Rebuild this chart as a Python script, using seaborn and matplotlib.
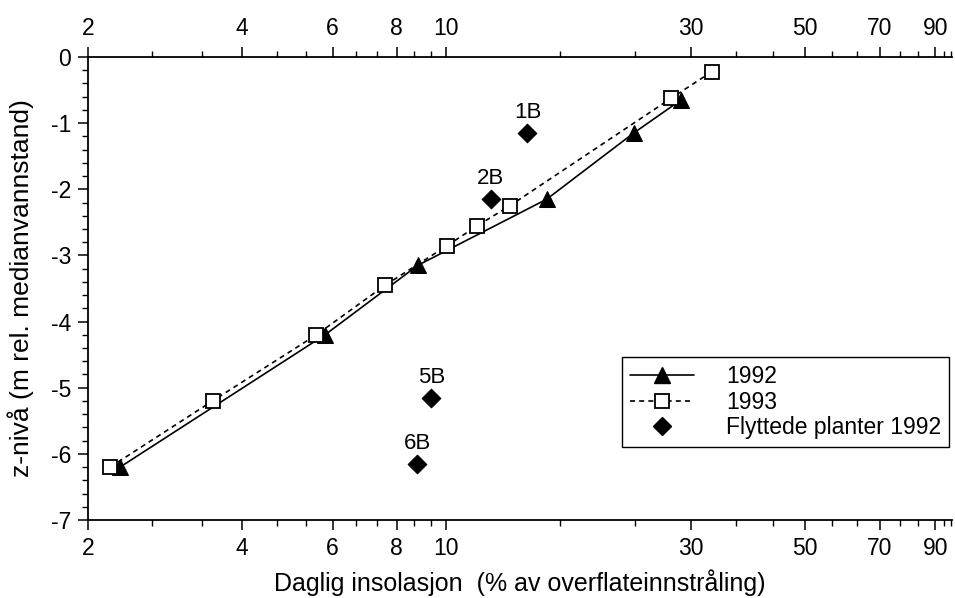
import matplotlib
matplotlib.use("Agg")
import matplotlib.pyplot as plt
from matplotlib.ticker import FixedLocator, NullFormatter, FuncFormatter
from matplotlib.lines import Line2D
import seaborn as sns
import pandas as pd

# --- data ---
x_1992 = [2.31, 5.8, 8.8, 15.7, 23.2, 28.7]
z_1992 = [-6.2, -4.2, -3.15, -2.15, -1.15, -0.65]

x_1993 = [2.21, 3.5, 5.58, 7.6, 10.05, 11.5, 13.3, 27.5, 33.0]
z_1993 = [-6.2, -5.2, -4.2, -3.45, -2.85, -2.55, -2.25, -0.62, -0.22]

x_moved = [14.4, 12.2, 9.35, 8.78]
z_moved = [-1.15, -2.15, -5.15, -6.15]
moved_labels = ["1B", "2B", "5B", "6B"]

major_x = [2, 4, 6, 8, 10, 30, 50, 70, 90]

df92 = pd.DataFrame({"x": x_1992, "z": z_1992})
df93 = pd.DataFrame({"x": x_1993, "z": z_1993})
dfm = pd.DataFrame({"x": x_moved, "z": z_moved, "lab": moved_labels})

sns.set_style("ticks")
plt.rcParams["font.family"] = ["Liberation Sans", "DejaVu Sans"]
plt.rcParams["axes.unicode_minus"] = False
plt.rcParams["text.color"] = "black"
plt.rcParams["axes.labelcolor"] = "black"
plt.rcParams["xtick.color"] = "black"
plt.rcParams["ytick.color"] = "black"

fig = plt.figure(figsize=(9.55, 5.98), dpi=100)
ax = fig.add_axes([0.0921, 0.1304, 0.9049, 0.7743])

sns.lineplot(data=df92, x="x", y="z", sort=False, color="black", lw=1.2,
             marker="^", markersize=11, markerfacecolor="black",
             markeredgecolor="black", ax=ax, zorder=3)
sns.lineplot(data=df93, x="x", y="z", sort=False, color="black", lw=1.2,
             linestyle=(0, (3, 2.5)), marker="s", markersize=10,
             markerfacecolor="white", markeredgecolor="black",
             markeredgewidth=1.3, ax=ax, zorder=4)
sns.scatterplot(data=dfm, x="x", y="z", marker="D", s=90, color="black",
                edgecolor="black", ax=ax, zorder=5)
for _, r in dfm.iterrows():
    ax.annotate(r["lab"], (r["x"], r["z"]), xytext=(0, 7),
                textcoords="offset points", ha="center", va="bottom",
                fontsize=16)

ax.set_xscale("log")
ax.set_xlim(2, 97)
ax.set_ylim(-7, 0)

# ticks: labelled majors and two evenly spaced minors between them
minor_x = []
for a, b in zip(major_x[:-1] + [90], major_x[1:] + [100]):
    step = (b - a) / 3
    minor_x += [a + step, a + 2 * step]
ax.xaxis.set_major_locator(FixedLocator(major_x))
ax.xaxis.set_major_formatter(FuncFormatter(lambda v, p: f"{v:g}"))
ax.xaxis.set_minor_locator(FixedLocator(minor_x))
ax.xaxis.set_minor_formatter(NullFormatter())
ax.yaxis.set_major_locator(FixedLocator(list(range(-7, 1))))
ax.yaxis.set_minor_locator(FixedLocator([v / 5 for v in range(-35, 1)]))

ax.tick_params(axis="x", which="both", top=True, labeltop=True,
               direction="out", labelsize=16.5, pad=5)
ax.tick_params(axis="y", which="both", direction="out", labelsize=16.5,
               pad=5)
ax.tick_params(which="major", length=7, width=1.1)
ax.tick_params(which="minor", length=4, width=1.0)

for s in ["left", "bottom", "top"]:
    ax.spines[s].set_linewidth(1.3)
    ax.spines[s].set_color("black")
ax.spines["right"].set_visible(False)

ax.set_xlabel("Daglig insolasjon  (% av overflateinnstråling)", fontsize=18,
              labelpad=7)
ax.set_ylabel("z-nivå (m rel. medianvannstand)", fontsize=19, labelpad=12)

handles = [
    Line2D([], [], color="black", lw=1.2, marker="^", markersize=11),
    Line2D([], [], color="black", lw=1.2, linestyle=(0, (3, 2.5)), marker="s",
           markersize=10, markerfacecolor="white", markeredgewidth=1.3),
    Line2D([], [], color="black", lw=0, marker="D", markersize=9),
]
leg = ax.legend(handles, ["1992", "1993", "Flyttede planter 1992"],
                loc="lower right", bbox_to_anchor=(0.9965, 0.158),
                fontsize=16.5, frameon=True, fancybox=False, framealpha=1,
                edgecolor="black", handlelength=2.8, borderpad=0.35,
                labelspacing=0.1, handletextpad=1.4, borderaxespad=0)
leg.get_frame().set_linewidth(1.0)

fig.savefig("out.png", dpi=100)
